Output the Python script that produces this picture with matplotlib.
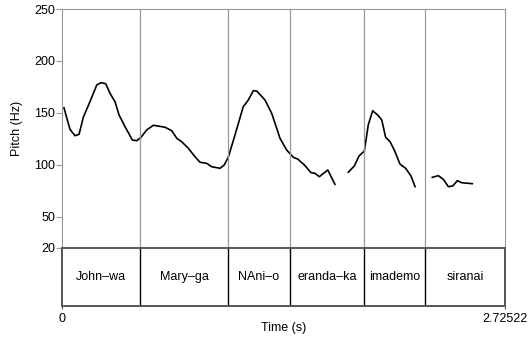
import matplotlib
matplotlib.use('Agg')
import matplotlib.pyplot as plt

plt.rcParams['font.family'] = ['Liberation Sans', 'DejaVu Sans']
plt.rcParams['font.size'] = 9

# pitch track, three voiced stretches (time in s, pitch in Hz)
seg1_t = [0.012, 0.049, 0.080, 0.105, 0.131, 0.172, 0.214, 0.240, 0.269, 0.295,
          0.326, 0.351, 0.388, 0.433, 0.460, 0.486, 0.521, 0.562, 0.634, 0.675,
          0.706, 0.736, 0.777, 0.818, 0.849, 0.890, 0.921, 0.972, 0.998, 1.023,
          1.064, 1.115, 1.146, 1.177, 1.198, 1.249, 1.290, 1.341, 1.382, 1.423,
          1.450, 1.491, 1.532, 1.556, 1.583, 1.635, 1.679]
seg1_hz = [155.0, 134.2, 128.1, 129.4, 145.8, 160.8, 176.9, 179.1, 178.1, 168.9,
           160.8, 148.0, 136.7, 123.9, 123.3, 126.5, 133.6, 138.1, 136.2, 132.9,
           125.6, 122.3, 116.0, 107.9, 102.5, 101.5, 98.2, 96.7, 99.9, 107.3,
           128.7, 156.0, 162.4, 171.4, 171.1, 162.4, 149.6, 125.6, 114.3, 107.3,
           105.6, 99.9, 92.5, 91.9, 88.6, 95.1, 81.3]

seg2_t = [1.761, 1.798, 1.827, 1.860, 1.884, 1.911, 1.942, 1.967, 1.991, 2.018,
          2.044, 2.079, 2.114, 2.147, 2.172]
seg2_hz = [92.9, 98.9, 108.5, 113.3, 138.4, 152.1, 148.0, 143.2, 126.5, 122.3,
           114.3, 100.8, 96.7, 89.3, 79.0]

seg3_t = [2.278, 2.315, 2.346, 2.377, 2.404, 2.432, 2.459, 2.524]
seg3_hz = [88.0, 89.6, 86.1, 79.0, 79.7, 84.8, 82.8, 81.9]

# word tier
total_dur = 2.72522
boundaries = [0.480, 1.021, 1.402, 1.859, 2.234]
words = ['John\u2013wa', 'Mary\u2013ga', 'NAni\u2013o', 'eranda\u2013ka', 'imademo', 'siranai']
yticks = [20, 50, 100, 150, 200, 250]

W, H = 529, 341
fig = plt.figure(figsize=(W / 100, H / 100), dpi=100)
ax = fig.add_axes([62 / W, 1 - 248 / H, 443 / W, 239 / H])
tier = fig.add_axes([62 / W, 1 - 306 / H, 443 / W, 58 / H])

grey = '#999999'
dark = '#555555'

# pitch panel
for t, hz in [(seg1_t, seg1_hz), (seg2_t, seg2_hz), (seg3_t, seg3_hz)]:
    ax.plot(t, hz, color='black', lw=1.2, solid_joinstyle='round')
for b in boundaries:
    ax.axvline(b, color=grey, lw=0.9)
ax.set_xlim(0, total_dur)
ax.set_ylim(20, 250)
ax.set_yticks(yticks)
ax.set_xticks([])
ax.tick_params(axis='y', direction='out', length=4, width=0.8, color=grey, pad=1)
for side in ['left', 'right', 'top']:
    ax.spines[side].set_color(grey)
    ax.spines[side].set_linewidth(0.8)
ax.spines['bottom'].set_visible(False)
ax.set_ylabel('Pitch (Hz)')
ax.yaxis.set_label_coords(-0.088, 0.5)

# tier panel
for b in boundaries:
    tier.axvline(b, color='black', lw=1.0)
edges = [0] + boundaries + [total_dur]
for i, w in enumerate(words):
    tier.text((edges[i] + edges[i + 1]) / 2, 0.5, w, ha='center', va='center')
tier.set_xlim(0, total_dur)
tier.set_ylim(0, 1)
tier.set_yticks([])
tier.set_xticks([0, total_dur])
tier.set_xticklabels(['0', '2.72522'])
tier.tick_params(axis='x', direction='out', length=2, width=0.8, color=dark, pad=3)
for side in tier.spines:
    tier.spines[side].set_color(dark)
    tier.spines[side].set_linewidth(1.4)
tier.set_xlabel('Time (s)', labelpad=-2)

fig.savefig('out.png', dpi=100)
